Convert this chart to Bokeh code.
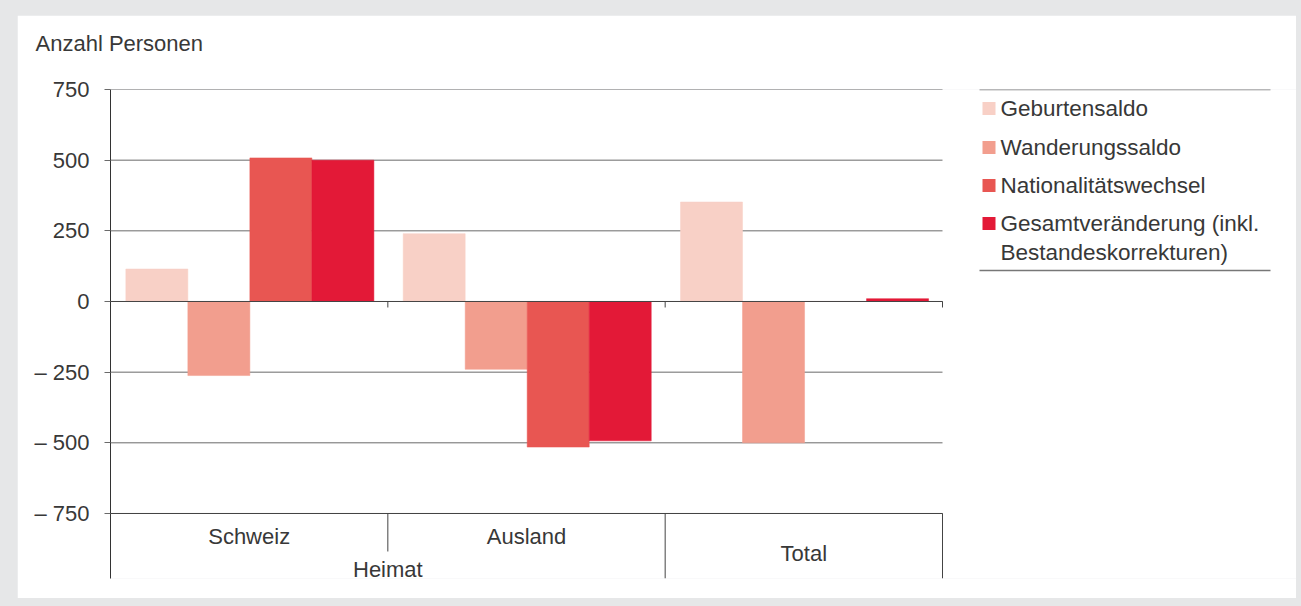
from bokeh.plotting import figure
from bokeh.models import FixedTicker, Range1d
from bokeh.layouts import column
from bokeh.core.properties import value
from bokeh.embed import file_html
from bokeh.resources import INLINE

# --- data -------------------------------------------------------------
regions = ["Schweiz", "Ausland", "Total"]
group_label = "Heimat"
series_labels = [
    ["Geburtensaldo"],
    ["Wanderungssaldo"],
    ["Nationalitätswechsel"],
    ["Gesamtveränderung (inkl.", "Bestandeskorrekturen)"],
]
geburtensaldo = [115, 240, 352]
wanderungssaldo = [-262, -240, -500]
nationalitaetswechsel = [508, -515, 0]
gesamtveraenderung = [500, -493, 10]

y_ticks = [750, 500, 250, 0, -250, -500, -750]
y_tick_labels = ["750", "500", "250", "0", "\u2013 250", "\u2013 500", "\u2013 750"]
y_label = "Anzahl Personen"

# --- styling ----------------------------------------------------------
colors = ["#f8d0c6", "#f29e8e", "#e85652", "#e31937"]
FONT = "Liberation Sans"
FS = "22px"
TEXT = "#383838"
GRID = "#6a6a6a"

FRAME_W, FRAME_H = 1186, 489
CHART_W = 832                      # pixel width of the three category slots
PX_X = CHART_W / len(regions)      # pixels per x unit
Y_TOP, Y_BOTTOM = 750, -980
PX_Y = FRAME_H / (Y_TOP - Y_BOTTOM)
BAR_W = 0.2236

def dx(px):
    return px / PX_X

def dy(py):
    # py: pixels down from the top of the frame
    return Y_TOP - py / PX_Y

p = figure(
    frame_width=FRAME_W, frame_height=FRAME_H,
    min_border_left=93, min_border_right=0, min_border_top=74, min_border_bottom=20,
    x_range=Range1d(0, FRAME_W / PX_X), y_range=Range1d(Y_BOTTOM, Y_TOP),
    x_axis_location=None, output_backend="svg", toolbar_location=None,
    background_fill_color="white", border_fill_color="white",
)
p.outline_line_color = None
p.grid.grid_line_color = None

# y axis
ax = p.yaxis[0]
ax.ticker = FixedTicker(ticks=y_ticks)
ax.major_label_overrides = dict(zip(y_ticks, y_tick_labels))
ax.axis_line_color = "#333333"
ax.major_tick_line_color = GRID
ax.major_tick_out = 6
ax.major_tick_in = 0
ax.minor_tick_line_color = None
ax.major_label_standoff = 15
ax.major_label_text_font = FONT
ax.major_label_text_font_size = FS
ax.major_label_text_color = TEXT

# unit label in the top left corner (a blank second line lifts it off the frame)
p.title.text = y_label + "\n"
p.title.align = "left"
p.title.offset = -75
p.title.standoff = 17
p.title.text_font = FONT
p.title.text_font_size = FS
p.title.text_font_style = "normal"
p.title.text_color = TEXT

n = len(regions)
shift = dx(0.7)

# horizontal grid lines
p.segment(x0=[0] * len(y_ticks), x1=[n] * len(y_ticks), y0=y_ticks, y1=y_ticks,
          line_color=GRID, line_width=1)

# bars
series = [geburtensaldo, wanderungssaldo, nationalitaetswechsel, gesamtveraenderung]
for i, (vals, col) in enumerate(zip(series, colors)):
    xs = [k + 0.5 + shift + (i - 1.5) * BAR_W for k in range(n)]
    p.vbar(x=xs, top=vals, bottom=0, width=BAR_W, fill_color=col, line_color=col, line_width=0.5)

# zero line with small tick marks at the category borders
p.segment(x0=[0], x1=[n], y0=[0], y1=[0], line_color="#444444", line_width=1)
p.segment(x0=[1, 2, 3], x1=[1, 2, 3], y0=[0] * 3, y1=[-6 / PX_Y] * 3,
          line_color="#444444", line_width=1)

# category axis below the bottom grid line
y_base = y_ticks[-1]
p.segment(x0=[0], x1=[n], y0=[y_base], y1=[y_base], line_color="#444444", line_width=1)
p.segment(x0=[1, 2, 3], x1=[1, 2, 3], y0=[y_base] * 3,
          y1=[y_base - 38 / PX_Y, Y_BOTTOM, Y_BOTTOM], line_color="#444444", line_width=1)

text_kw = dict(text_font=value(FONT), text_font_size=FS, text_color=TEXT,
               text_baseline="middle", text_align="center")
p.text(x=[0.5, 1.5], y=[y_base - 23 / PX_Y] * 2, text=regions[:2], **text_kw)
p.text(x=[1.0], y=[y_base - 56 / PX_Y], text=[group_label], **text_kw)
p.text(x=[2.5], y=[y_base - 40 / PX_Y], text=[regions[2]], **text_kw)

# legend
leg_x0, leg_x1 = dx(869), dx(1160)
p.segment(x0=[leg_x0] * 2, x1=[leg_x1] * 2, y0=[dy(0), dy(181)], y1=[dy(0), dy(181)],
          line_color="#777777", line_width=1.5)
row_y = [19, 58, 96, 134]
p.rect(x=[dx(878.5)] * 4, y=[dy(r) for r in row_y], width=13, height=13,
       width_units="screen", height_units="screen", fill_color=colors, line_color=None)
lx, ly, lt = [], [], []
for r, lines in zip(row_y, series_labels):
    for j, t in enumerate(lines):
        lx.append(dx(890))
        ly.append(dy(r + 29 * j))
        lt.append(t)
p.text(x=lx, y=ly, text=lt, text_font=value(FONT), text_font_size="22.5px", text_color=TEXT,
       text_baseline="middle", text_align="left")

root = column(p, styles={"background-color": "#e6e7e8", "padding": "15px 5px 8px 17px"})

open("out.html", "w").write(file_html(root, INLINE))
